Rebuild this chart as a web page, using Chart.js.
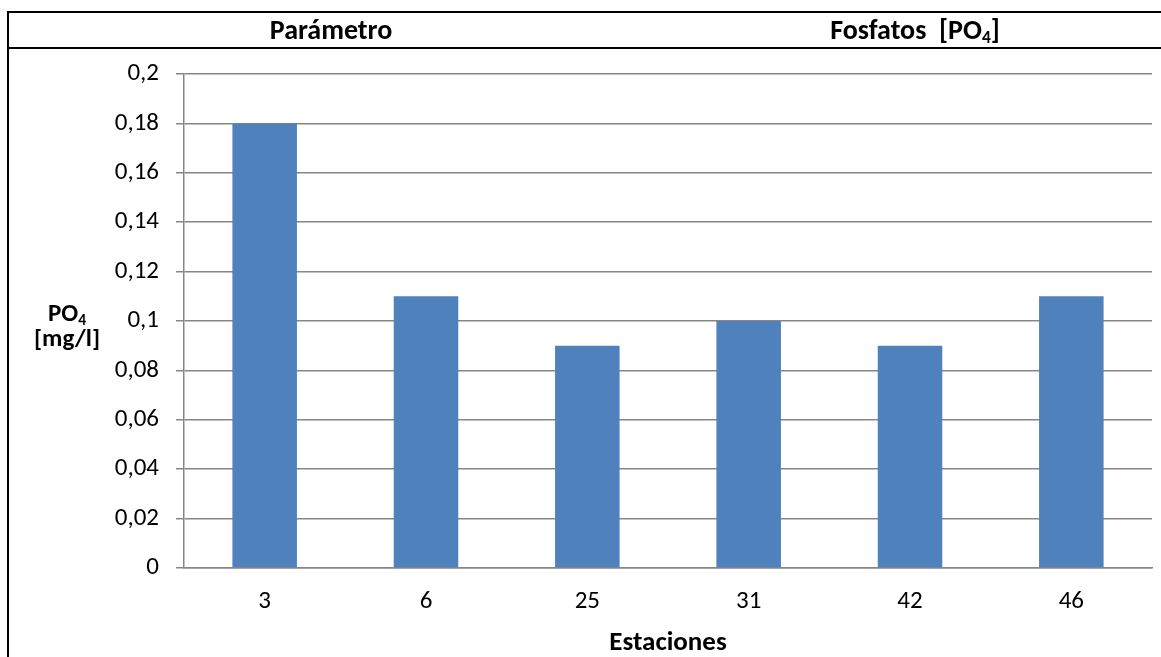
<!DOCTYPE html>
<html>
<head>
<meta charset="utf-8">
<script src="https://cdn.jsdelivr.net/npm/chart.js@4/dist/chart.umd.min.js"></script>
<style>
  html, body { margin: 0; padding: 0; background: #fff; }
  #wrap { position: relative; width: 1161px; height: 657px; overflow: hidden; font-family: Carlito, Lato, "Noto Sans", sans-serif; color: #000; }
  #chart { position: absolute; left: 0; top: 0; }
  .rule-h { position: absolute; left: 7px; right: 0; height: 2px; background: #000; }
  .rule-v { position: absolute; left: 7px; top: 11px; bottom: 0; width: 2px; background: #000; }
  .head { position: absolute; top: 15px; width: 260px; text-align: center; font-weight: bold; font-size: 28px; line-height: 30px; white-space: nowrap; }
  .ytitle { position: absolute; left: 17px; width: 100px; top: 300px; text-align: center; font-weight: bold; font-size: 25px; line-height: 25px; }
  sub { font-size: 0.62em; vertical-align: -0.25em; line-height: 0; }
</style>
</head>
<body>
<div id="wrap">
  <canvas id="chart" width="1161" height="657"></canvas>
  <div class="rule-h" style="top:11px"></div>
  <div class="rule-h" style="top:47px"></div>
  <div class="rule-v"></div>
  <div class="head" style="left:201px">Parámetro</div>
  <div class="head" style="left:785px">Fosfatos&nbsp; [PO<sub>4</sub>]</div>
  <div class="ytitle">PO<sub>4</sub><br>[mg/l]</div>
</div>
<script>
// Phosphate concentration per sampling station
const stations = ['3', '6', '25', '31', '42', '46'];
const po4Values = [0.18, 0.11, 0.09, 0.10, 0.09, 0.11];
const yTickValues = [0, 0.02, 0.04, 0.06, 0.08, 0.1, 0.12, 0.14, 0.16, 0.18, 0.2];

const fontFamily = 'Carlito, Lato, "Noto Sans", sans-serif';

new Chart(document.getElementById('chart'), {
  type: 'bar',
  data: {
    labels: stations,
    datasets: [{
      label: 'PO4',
      data: po4Values,
      backgroundColor: '#4F81BD',
      borderWidth: 0,
      categoryPercentage: 0.4,
      barPercentage: 1.0
    }]
  },
  options: {
    responsive: false,
    devicePixelRatio: 1,
    animation: false,
    layout: { padding: { top: 74, right: 9, bottom: 0, left: 0 } },
    plugins: {
      legend: { display: false },
      tooltip: { enabled: false },
      title: { display: false }
    },
    scales: {
      x: {
        grid: { display: false },
        border: { display: true, color: '#868686', width: 1.5 },
        ticks: { color: '#000', font: { family: fontFamily, size: 25 }, padding: 11, maxRotation: 0 },
        title: {
          display: true,
          text: 'Estaciones',
          color: '#000',
          font: { family: fontFamily, size: 27, weight: 'bold', lineHeight: 1 },
          padding: { top: 0, bottom: 0 }
        },
        afterFit: (scale) => { scale.height = 89; }
      },
      y: {
        min: 0,
        max: 0.2,
        afterBuildTicks: (scale) => { scale.ticks = yTickValues.map(v => ({ value: v })); },
        grid: { color: '#868686', lineWidth: 1.5, tickLength: 8, drawTicks: true },
        border: { display: true, color: '#868686', width: 1.5 },
        ticks: {
          color: '#000',
          font: { family: fontFamily, size: 25 },
          padding: 17,
          callback: (v) => String(Math.round(v * 100) / 100).replace('.', ',')
        },
        afterFit: (scale) => { scale.width = 184; }
      }
    }
  }
});
</script>
</body>
</html>
